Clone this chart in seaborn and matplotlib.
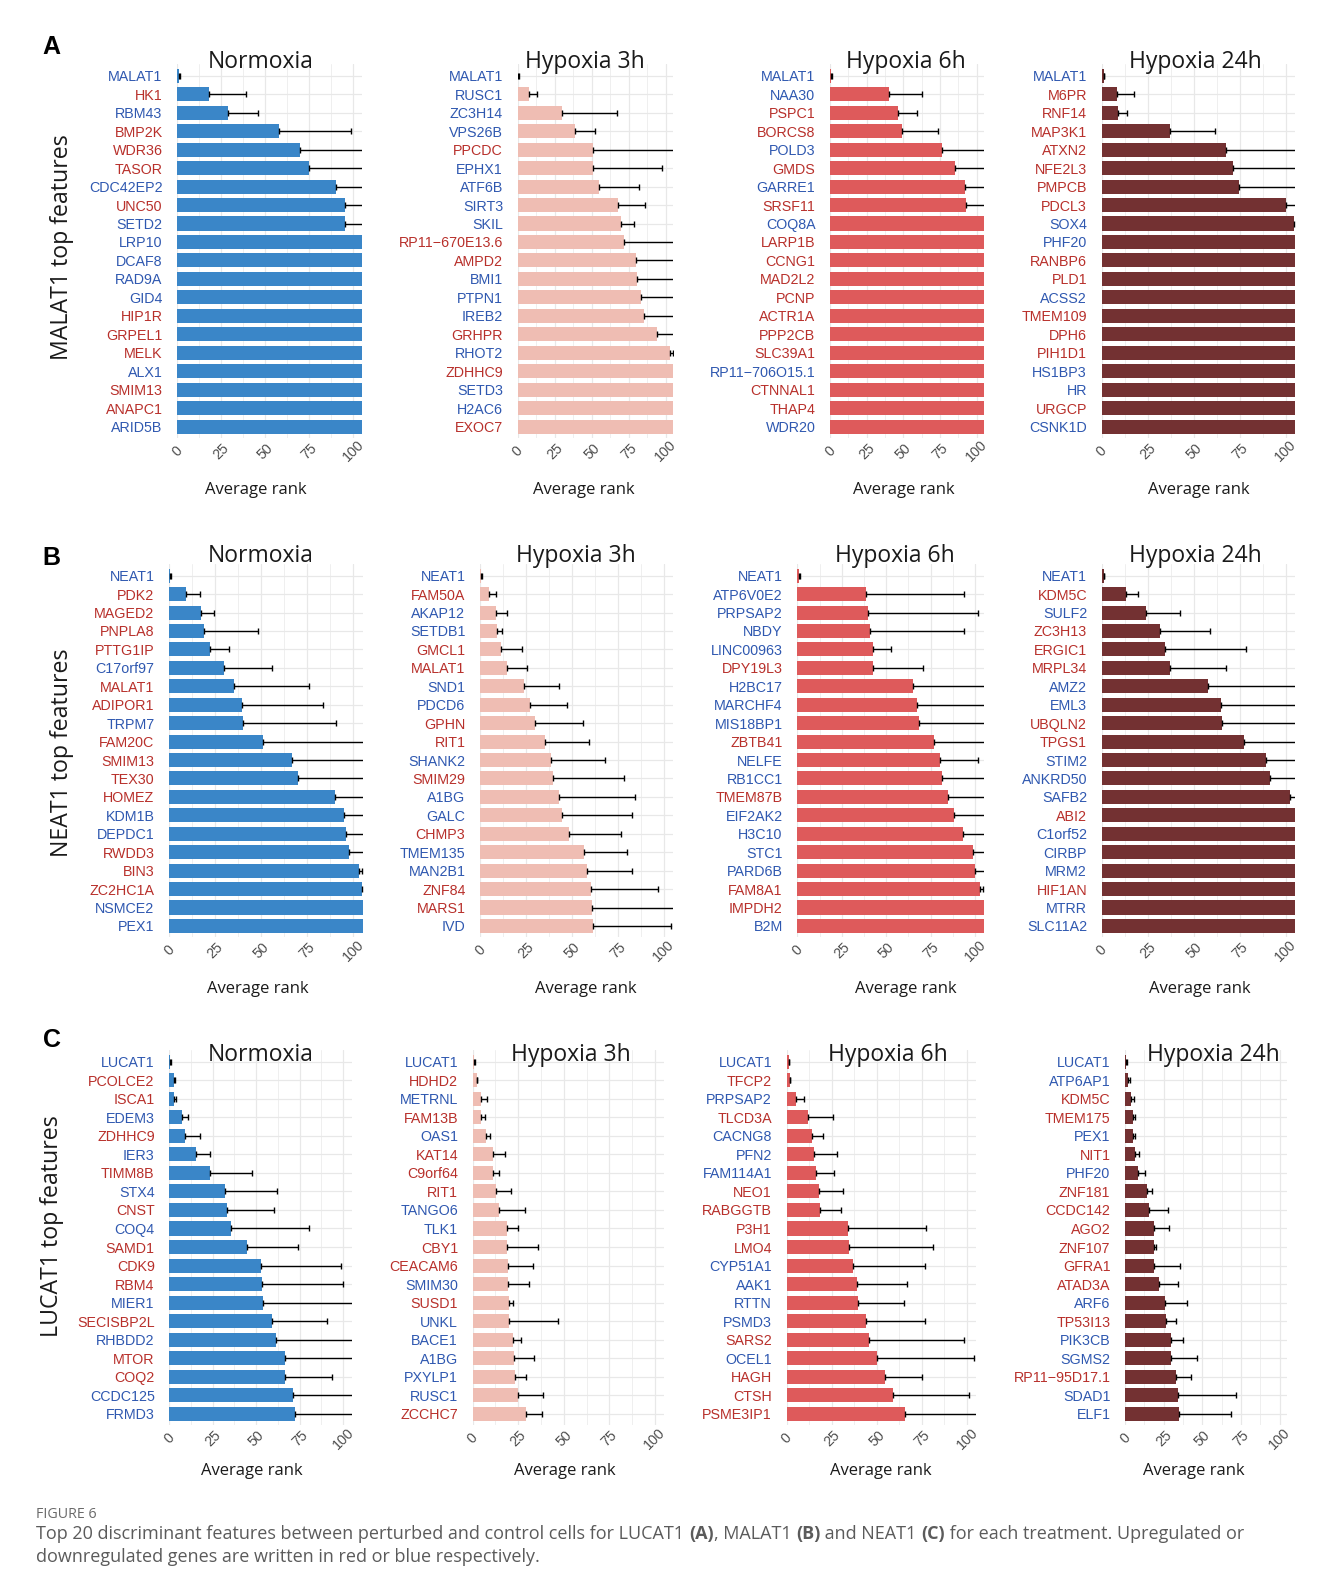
import numpy as np
import pandas as pd
import matplotlib
matplotlib.use("Agg")
import matplotlib.pyplot as plt
import seaborn as sns

# ---------------------------------------------------------------- data
CONDITIONS = ["Normoxia", "Hypoxia 3h", "Hypoxia 6h", "Hypoxia 24h"]
X_TICKS = [0, 25, 50, 75, 100]
X_TICK_LABELS = ["0", "25", "50", "75", "100"]
X_MINOR = [12.5, 37.5, 62.5, 87.5]
X_MAX = 105

# ---- A: MALAT1
MALAT1_NORM_GENES = ["MALAT1", "HK1", "RBM43", "BMP2K", "WDR36", "TASOR", "CDC42EP2", "UNC50", "SETD2", "LRP10",
                     "DCAF8", "RAD9A", "GID4", "HIP1R", "GRPEL1", "MELK", "ALX1", "SMIM13", "ANAPC1", "ARID5B"]
MALAT1_NORM_RANK = [0.8, 18.2, 28.6, 58.0, 70.0, 74.6, 90.5, 95.3, 95.3, 105, 105, 105, 105, 105, 105, 105, 105, 105, 105, 105]
MALAT1_NORM_UPPER = [1.3, 38.8, 45.6, 98.5, 115, 115, 115, 115, 115, 105, 105, 105, 105, 105, 105, 105, 105, 105, 105, 105]
MALAT1_NORM_DIR = "DUDUUUDUDDDDDUUUDUUD"

MALAT1_H3_GENES = ["MALAT1", "RUSC1", "ZC3H14", "VPS26B", "PPCDC", "EPHX1", "ATF6B", "SIRT3", "SKIL", "RP11\u2212670E13.6",
                   "AMPD2", "BMI1", "PTPN1", "IREB2", "GRHPR", "RHOT2", "ZDHHC9", "SETD3", "H2AC6", "EXOC7"]
MALAT1_H3_RANK = [0.5, 7.4, 29.9, 38.7, 50.6, 51.0, 55.0, 67.6, 69.9, 71.9, 79.8, 80.7, 82.9, 85.2, 93.7, 102.7, 105, 105, 105, 105]
MALAT1_H3_UPPER = [1.0, 12.8, 67.2, 52.1, 115, 97.5, 81.8, 85.8, 78.7, 115, 115, 115, 115, 115, 115, 104.5, 105, 105, 105, 105]
MALAT1_H3_DIR = "DDDDUDDDDUUDDDUDUDDU"

MALAT1_H6_GENES = ["MALAT1", "NAA30", "PSPC1", "BORCS8", "POLD3", "GMDS", "GARRE1", "SRSF11", "COQ8A", "LARP1B",
                   "CCNG1", "MAD2L2", "PCNP", "ACTR1A", "PPP2CB", "SLC39A1", "RP11\u2212706O15.1", "CTNNAL1", "THAP4", "WDR20"]
MALAT1_H6_RANK = [0.8, 40.2, 46.4, 49.3, 76.1, 85.2, 92.3, 93.0, 105, 105, 105, 105, 105, 105, 105, 105, 105, 105, 105, 105]
MALAT1_H6_UPPER = [1.3, 63.0, 59.0, 73.9, 115, 115, 115, 115, 105, 105, 105, 105, 105, 105, 105, 105, 105, 105, 105, 105]
MALAT1_H6_DIR = "DDUUDUDUDUUUUUUUDUUD"

MALAT1_H24_GENES = ["MALAT1", "M6PR", "RNF14", "MAP3K1", "ATXN2", "NFE2L3", "PMPCB", "PDCL3", "SOX4", "PHF20",
                    "RANBP6", "PLD1", "ACSS2", "TMEM109", "DPH6", "PIH1D1", "HS1BP3", "HR", "URGCP", "CSNK1D"]
MALAT1_H24_RANK = [1.0, 8.2, 9.1, 37.3, 67.6, 71.2, 74.8, 100.0, 104.5, 105, 105, 105, 105, 105, 105, 105, 105, 105, 105, 105]
MALAT1_H24_UPPER = [1.3, 17.8, 13.6, 61.6, 115, 115, 115, 115, 106, 105, 105, 105, 105, 105, 105, 105, 105, 105, 105, 105]
MALAT1_H24_DIR = "DUUUUUUUDDUUDUUUDDUD"

# ---- B: NEAT1
NEAT1_NORM_GENES = ["NEAT1", "PDK2", "MAGED2", "PNPLA8", "PTTG1IP", "C17orf97", "MALAT1", "ADIPOR1", "TRPM7", "FAM20C",
                    "SMIM13", "TEX30", "HOMEZ", "KDM1B", "DEPDC1", "RWDD3", "BIN3", "ZC2HC1A", "NSMCE2", "PEX1"]
NEAT1_NORM_RANK = [0.8, 9.2, 17.4, 19.0, 22.0, 29.8, 35.4, 39.4, 40.3, 51.1, 66.7, 69.9, 90.0, 95.1, 96.0, 97.8, 103.0, 104.5, 105, 105]
NEAT1_NORM_UPPER = [1.2, 17.0, 24.4, 48.4, 32.5, 55.7, 76.1, 83.7, 90.5, 115, 115, 115, 115, 115, 115, 115, 104.8, 106, 105, 105]
NEAT1_NORM_DIR = "DUUUUDUUDUUUUDDUUUDD"

NEAT1_H3_GENES = ["NEAT1", "FAM50A", "AKAP12", "SETDB1", "GMCL1", "MALAT1", "SND1", "PDCD6", "GPHN", "RIT1",
                  "SHANK2", "SMIM29", "A1BG", "GALC", "CHMP3", "TMEM135", "MAN2B1", "ZNF84", "MARS1", "IVD"]
NEAT1_H3_RANK = [0.8, 4.7, 8.5, 9.2, 11.2, 14.7, 23.9, 27.3, 30.0, 35.1, 38.7, 39.5, 43.1, 44.5, 48.5, 56.5, 58.1, 60.5, 60.8, 61.7]
NEAT1_H3_UPPER = [1.2, 8.7, 14.5, 11.8, 22.6, 25.3, 42.9, 47.2, 56.1, 59.2, 67.9, 78.4, 84.2, 82.7, 76.6, 80.2, 82.9, 96.9, 115, 103.7]
NEAT1_H3_DIR = "DUDDUUDDUUDUDDUDDUUD"

NEAT1_H6_GENES = ["NEAT1", "ATP6V0E2", "PRPSAP2", "NBDY", "LINC00963", "DPY19L3", "H2BC17", "MARCHF4", "MIS18BP1", "ZBTB41",
                  "NELFE", "RB1CC1", "TMEM87B", "EIF2AK2", "H3C10", "STC1", "PARD6B", "FAM8A1", "IMPDH2", "B2M"]
NEAT1_H6_RANK = [1.0, 38.8, 39.8, 40.9, 42.8, 42.8, 65.1, 67.5, 68.4, 76.7, 80.1, 81.6, 84.9, 88.1, 93.4, 98.8, 99.9, 102.6, 105, 105]
NEAT1_H6_UPPER = [1.5, 93.8, 101.8, 93.8, 52.5, 70.9, 115, 115, 115, 115, 101.8, 115, 115, 115, 115, 115, 115, 104.6, 105, 105]
NEAT1_H6_DIR = "DDDDDUDDDUDDUDDDDUUD"

NEAT1_H24_GENES = ["NEAT1", "KDM5C", "SULF2", "ZC3H13", "ERGIC1", "MRPL34", "AMZ2", "EML3", "UBQLN2", "TPGS1",
                   "STIM2", "ANKRD50", "SAFB2", "ABI2", "C1orf52", "CIRBP", "MRM2", "HIF1AN", "MTRR", "SLC11A2"]
NEAT1_H24_RANK = [1.0, 13.2, 23.9, 31.9, 34.2, 37.3, 57.9, 64.8, 65.5, 77.3, 89.1, 91.2, 102.3, 105, 105, 105, 105, 105, 105, 105]
NEAT1_H24_UPPER = [1.3, 19.7, 42.7, 58.7, 78.4, 67.5, 115, 115, 115, 115, 115, 115, 115, 105, 105, 105, 105, 105, 105, 105]
NEAT1_H24_DIR = "DUDUUUDDUUDDDUDDDUDD"

# ---- C: LUCAT1
LUCAT1_NORM_GENES = ["LUCAT1", "PCOLCE2", "ISCA1", "EDEM3", "ZDHHC9", "IER3", "TIMM8B", "STX4", "CNST", "COQ4",
                     "SAMD1", "CDK9", "RBM4", "MIER1", "SECISBP2L", "RHBDD2", "MTOR", "COQ2", "CCDC125", "FRMD3"]
LUCAT1_NORM_RANK = [0.5, 2.7, 2.9, 7.3, 9.0, 15.4, 23.4, 32.1, 33.4, 35.3, 44.5, 52.6, 53.4, 53.7, 59.1, 61.4, 66.4, 66.8, 71.2, 72.6]
LUCAT1_NORM_UPPER = [1.0, 3.3, 3.6, 10.7, 17.9, 23.4, 47.8, 61.8, 60.3, 80.4, 74.3, 98.7, 99.8, 115, 90.6, 115, 115, 93.5, 115, 115]
LUCAT1_NORM_DIR = "DUUDUDUDUDUUUDUDUUDD"

LUCAT1_H3_GENES = ["LUCAT1", "HDHD2", "METRNL", "FAM13B", "OAS1", "KAT14", "C9orf64", "RIT1", "TANGO6", "TLK1",
                   "CBY1", "CEACAM6", "SMIM30", "SUSD1", "UNKL", "BACE1", "A1BG", "PXYLP1", "RUSC1", "ZCCHC7"]
LUCAT1_H3_RANK = [0.8, 2.2, 4.6, 4.6, 7.3, 11.3, 11.3, 12.8, 14.6, 18.7, 18.8, 19.2, 19.4, 19.9, 19.9, 22.3, 22.9, 23.2, 24.7, 29.3]
LUCAT1_H3_UPPER = [1.3, 2.6, 7.7, 7.0, 9.5, 17.9, 14.6, 21.0, 28.9, 24.9, 35.7, 32.9, 30.7, 21.9, 47.0, 26.7, 33.7, 29.1, 38.4, 37.9]
LUCAT1_H3_DIR = "DUDUDUUUDDUUDUDDDDDU"

LUCAT1_H6_GENES = ["LUCAT1", "TFCP2", "PRPSAP2", "TLCD3A", "CACNG8", "PFN2", "FAM114A1", "NEO1", "RABGGTB", "P3H1",
                   "LMO4", "CYP51A1", "AAK1", "RTTN", "PSMD3", "SARS2", "OCEL1", "HAGH", "CTSH", "PSME3IP1"]
LUCAT1_H6_RANK = [1.0, 1.8, 5.2, 11.6, 13.9, 15.0, 16.3, 17.9, 18.3, 33.8, 34.8, 37.0, 39.2, 39.7, 43.8, 45.7, 50.3, 54.7, 58.8, 65.8]
LUCAT1_H6_UPPER = [1.3, 2.1, 9.4, 25.9, 20.1, 28.1, 26.2, 31.2, 30.1, 77.1, 81.3, 76.5, 66.9, 65.2, 76.7, 98.2, 104.1, 75.2, 101.3, 115]
LUCAT1_H6_DIR = "DUDUDDDUUUUDDDDUDUUU"

LUCAT1_H24_GENES = ["LUCAT1", "ATP6AP1", "KDM5C", "TMEM175", "PEX1", "NIT1", "PHF20", "ZNF181", "CCDC142", "AGO2",
                    "ZNF107", "GFRA1", "ATAD3A", "ARF6", "TP53I13", "PIK3CB", "SGMS2", "RP11\u221295D17.1", "SDAD1", "ELF1"]
LUCAT1_H24_RANK = [0.9, 2.2, 3.9, 5.0, 5.4, 6.5, 8.2, 14.0, 15.5, 18.8, 18.8, 18.8, 21.8, 25.7, 26.7, 29.8, 29.8, 32.8, 34.3, 35.1]
LUCAT1_H24_UPPER = [1.3, 3.0, 5.8, 6.5, 6.3, 8.8, 12.7, 17.7, 27.6, 28.2, 20.1, 35.8, 34.5, 40.3, 32.8, 37.7, 46.4, 42.7, 72.0, 68.3]
LUCAT1_H24_DIR = "DDUUDUDUUUUUUDUDDUDD"

ROWS = [
    ("A", "MALAT1 top features", [
        (MALAT1_NORM_GENES, MALAT1_NORM_RANK, MALAT1_NORM_UPPER, MALAT1_NORM_DIR),
        (MALAT1_H3_GENES, MALAT1_H3_RANK, MALAT1_H3_UPPER, MALAT1_H3_DIR),
        (MALAT1_H6_GENES, MALAT1_H6_RANK, MALAT1_H6_UPPER, MALAT1_H6_DIR),
        (MALAT1_H24_GENES, MALAT1_H24_RANK, MALAT1_H24_UPPER, MALAT1_H24_DIR)]),
    ("B", "NEAT1 top features", [
        (NEAT1_NORM_GENES, NEAT1_NORM_RANK, NEAT1_NORM_UPPER, NEAT1_NORM_DIR),
        (NEAT1_H3_GENES, NEAT1_H3_RANK, NEAT1_H3_UPPER, NEAT1_H3_DIR),
        (NEAT1_H6_GENES, NEAT1_H6_RANK, NEAT1_H6_UPPER, NEAT1_H6_DIR),
        (NEAT1_H24_GENES, NEAT1_H24_RANK, NEAT1_H24_UPPER, NEAT1_H24_DIR)]),
    ("C", "LUCAT1 top features", [
        (LUCAT1_NORM_GENES, LUCAT1_NORM_RANK, LUCAT1_NORM_UPPER, LUCAT1_NORM_DIR),
        (LUCAT1_H3_GENES, LUCAT1_H3_RANK, LUCAT1_H3_UPPER, LUCAT1_H3_DIR),
        (LUCAT1_H6_GENES, LUCAT1_H6_RANK, LUCAT1_H6_UPPER, LUCAT1_H6_DIR),
        (LUCAT1_H24_GENES, LUCAT1_H24_RANK, LUCAT1_H24_UPPER, LUCAT1_H24_DIR)]),
]

CAPTION_HEAD = "FIGURE 6"
CAPTION_LINE1 = [("Top 20 discriminant features between perturbed and control cells for LUCAT1 ", "normal"),
                 ("(A)", "bold"), (", MALAT1 ", "normal"), ("(B)", "bold"), (" and NEAT1 ", "normal"),
                 ("(C)", "bold"), (" for each treatment. Upregulated or", "normal")]
CAPTION_LINE2 = "downregulated genes are written in red or blue respectively."

# ---------------------------------------------------------------- style / layout
COND_COLORS = ["#3a86c8", "#efbdb3", "#de5a5b", "#733132"]
UP_COLOR = "#b8302b"
DOWN_COLOR = "#2f58b0"
GRID_COLOR = "#e8e8e8"
TITLE_FONT = ["Open Sans", "DejaVu Sans"]
TICK_FONT = ["Liberation Sans", "DejaVu Sans"]

ROW_Y = {"A": (63.7, 437.8), "B": (563.7, 937.0), "C": (1049.6, 1425.0)}
PANEL_X = {
    "A": [(177.3, 362.0), (517.7, 673.3), (830.0, 984.0), (1101.7, 1295.0)],
    "B": [(169.0, 362.7), (480.0, 673.0), (797.3, 984.0), (1101.7, 1295.0)],
    "C": [(169.3, 351.7), (472.7, 664.0), (786.7, 976.0), (1125.0, 1287.3)],
}
TITLE_X = {"A": [260.8, 585.0, 906.3, 1195.5], "B": [260.8, 576.3, 895.0, 1195.5], "C": [260.8, 571.2, 887.8, 1213.0]}
TITLE_Y = {"A": 68.3, "B": 561.7, "C": 1061.0}
XLAB_X = {"A": [255.7, 584.3, 904.0, 1198.7], "B": [257.8, 585.8, 905.7, 1200.3], "C": [251.7, 564.7, 880.8, 1193.8]}
XLAB_Y = {"A": 494.0, "B": 992.7, "C": 1475.0}
YLAB_POS = {"A": (61.7, 247.5), "B": (61.7, 752.5), "C": (52.0, 1225.8)}
LETTER_POS = {"A": (51.7, 47.5), "B": (51.7, 558.0), "C": (51.7, 1040.0)}

sns.set_theme(style="white")
plt.rcParams["font.family"] = TICK_FONT

W, H, DPI = 1328, 1588, 100
fig = plt.figure(figsize=(W / DPI, H / DPI), dpi=DPI)
fig.patch.set_facecolor("white")


def fx(x):
    return x / W


def fy(y):
    return 1 - y / H


def draw_panel(ax, genes, rank, upper, dirs, color):
    df = pd.DataFrame({"gene": genes, "rank": rank, "upper": upper})
    sns.barplot(data=df, x="rank", y="gene", order=genes, orient="h", color=color,
                saturation=1, width=0.76, errorbar=None, ax=ax, zorder=2, linewidth=0)
    pos = np.arange(len(genes))
    r = df["rank"].to_numpy(float)
    u = df["upper"].to_numpy(float)
    m = u > r + 1e-9
    ax.errorbar(r[m], pos[m], xerr=[np.zeros(m.sum()), (u - r)[m]], fmt="none",
                ecolor="black", elinewidth=1.0, capsize=2.4, capthick=1.0, zorder=3)
    ax.set_xlim(0, X_MAX)
    ax.set_ylim(len(genes) - 1 + 0.6, -0.65)
    ax.set_xticks(X_TICKS)
    ax.set_xticklabels(X_TICK_LABELS)
    ax.set_xticks(X_MINOR, minor=True)
    ax.grid(axis="x", which="major", color=GRID_COLOR, lw=0.9, zorder=0)
    ax.grid(axis="x", which="minor", color="#efefef", lw=0.7, zorder=0)
    ax.grid(axis="y", which="major", color=GRID_COLOR, lw=0.9, zorder=0)
    ax.set_axisbelow(True)
    for s in ax.spines.values():
        s.set_visible(False)
    ax.set_xlabel("")
    ax.set_ylabel("")
    ax.tick_params(axis="y", length=5, width=0.8, color="#d9d9d9", pad=5.5, labelsize=10.3)
    ax.tick_params(axis="x", which="both", length=0, pad=9.7, labelsize=10.3, labelcolor="#4f4f4f")
    for lbl, d in zip(ax.get_yticklabels(), dirs):
        lbl.set_color(UP_COLOR if d == "U" else DOWN_COLOR)
        lbl.set_fontfamily(TICK_FONT)
    for lbl in ax.get_xticklabels():
        lbl.set_rotation(45)
        lbl.set_rotation_mode("anchor")
        lbl.set_ha("center")
        lbl.set_va("center")
        lbl.set_fontfamily(TICK_FONT)


for letter, ylab, panels in ROWS:
    y0, y1 = ROW_Y[letter]
    for j, (genes, rank, upper, dirs) in enumerate(panels):
        x0, x1 = PANEL_X[letter][j]
        ax = fig.add_axes([fx(x0), fy(y1), (x1 - x0) / W, (y1 - y0) / H])
        draw_panel(ax, genes, rank, upper, dirs, COND_COLORS[j])
        fig.text(fx(TITLE_X[letter][j]), fy(TITLE_Y[letter]), CONDITIONS[j], ha="center", va="baseline",
                 fontsize=16.5, family=TITLE_FONT, color="#1a1a1a")
        fig.text(fx(XLAB_X[letter][j]), fy(XLAB_Y[letter]), "Average rank", ha="center", va="baseline",
                 fontsize=12, family=TITLE_FONT, color="#1a1a1a")
    px, py = YLAB_POS[letter]
    fig.text(fx(px), fy(py), ylab, rotation=90, ha="center", va="center", fontsize=16.7,
             family=TITLE_FONT, color="#1a1a1a")
    lx, ly = LETTER_POS[letter]
    fig.text(fx(lx), fy(ly), letter, ha="center", va="center", fontsize=18, fontweight="bold",
             family=TICK_FONT, color="black")

# ---------------------------------------------------------------- caption
CAP_COLOR = "#5b5b5b"
fig.text(fx(36.5), fy(1514), CAPTION_HEAD, ha="left", va="center", fontsize=10.3,
         family=TITLE_FONT, color="#6a6a6a")

renderer = fig.canvas.get_renderer()


def rich_line(x, y, pieces, fs):
    cur = x
    arts = []
    for txt, wt in pieces:
        t = fig.text(fx(cur), fy(y), txt, ha="left", va="center", fontsize=fs, fontweight=wt,
                     family=TITLE_FONT, color=CAP_COLOR)
        bb = t.get_window_extent(renderer=renderer)
        cur += bb.width
        arts.append(t)
    return cur - x, arts


TARGET_W = 1216.0
w0, arts = rich_line(36.5, 1534, CAPTION_LINE1, 11.0)
for a in arts:
    a.remove()
cap_fs = 11.0 * TARGET_W / w0
rich_line(36.5, 1534, CAPTION_LINE1, cap_fs)
fig.text(fx(36.5), fy(1557), CAPTION_LINE2, ha="left", va="center", fontsize=cap_fs,
         family=TITLE_FONT, color=CAP_COLOR)

fig.savefig("out.png", dpi=DPI, facecolor="white")
